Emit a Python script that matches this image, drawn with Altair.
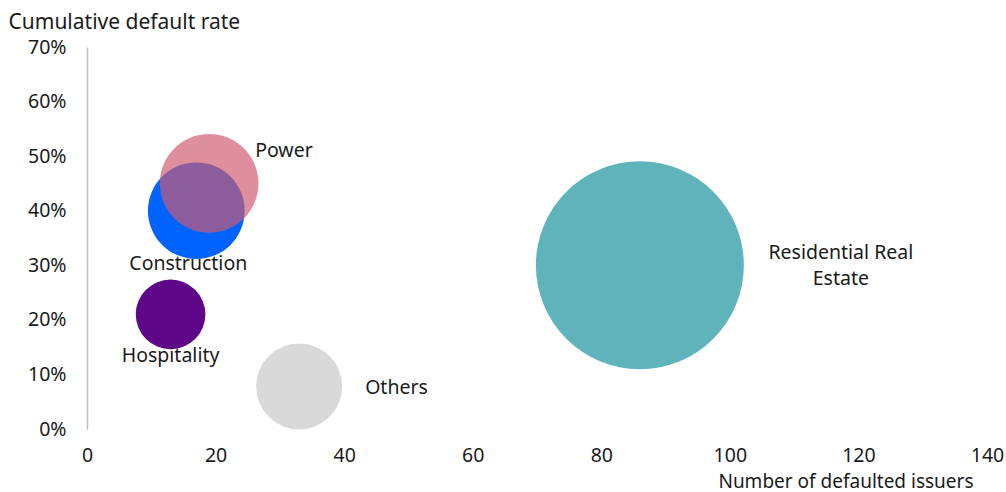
import altair as alt
import pandas as pd

# Sector bubbles: defaulted issuers (x), cumulative default rate (y), bubble size
sectors = ["Residential Real Estate", "Others", "Hospitality", "Construction", "Power"]
issuers = [86, 33, 13, 17, 19]
default_rate = [0.30, 0.078, 0.21, 0.40, 0.45]
bubble = [100, 17.1, 11.2, 21.6, 22.5]
label_text = ["Residential Real\nEstate", "Others", "Hospitality", "Construction", "Power"]

x_ticks = [0, 20, 40, 60, 80, 100, 120, 140]
y_ticks = [0, 0.1, 0.2, 0.3, 0.4, 0.5, 0.6, 0.7]

palette = ["#5FB4BC", "#D9D9D9", "#5E0788", "#0063FF", "#D0596E"]

FONT = "Noto Sans"
INK = "#1A1A1A"
FS = 19.5

df = pd.DataFrame({
    "sector": sectors,
    "issuers": issuers,
    "rate": default_rate,
    "bubble": bubble,
    "label": label_text,
})

x_enc = alt.X(
    "issuers:Q",
    scale=alt.Scale(domain=[0, 140], nice=False),
    axis=alt.Axis(
        values=x_ticks,
        title="Number of defaulted issuers",
        titleAngle=0,
        titleAlign="right",
        titleAnchor=None,
        titleX=886,
        titleY=58,
        titleBaseline="alphabetic",
        titleFontWeight="normal",
        titleFontSize=19,
        titleFont=FONT,
        titleColor=INK,
        labelFont=FONT,
        labelFontSize=FS,
        labelColor=INK,
        labelBaseline="alphabetic",
        labelPadding=32,
        labelFlush=False,
        ticks=False,
        tickSize=0,
        domain=False,
        grid=False,
    ),
)

y_enc = alt.Y(
    "rate:Q",
    scale=alt.Scale(domain=[0, 0.7], nice=False),
    axis=alt.Axis(
        values=y_ticks,
        format=".0%",
        title="Cumulative default rate",
        titleAngle=0,
        titleAlign="left",
        titleAnchor=None,
        titleX=-79,
        titleY=-19,
        titleBaseline="alphabetic",
        titleFontWeight="normal",
        titleFontSize=21,
        titleFont=FONT,
        titleColor=INK,
        labelFont=FONT,
        labelFontSize=FS,
        labelColor=INK,
        labelBaseline="middle",
        labelAlign="right",
        labelPadding=21,
        labelFlush=False,
        ticks=False,
        tickSize=0,
        domain=True,
        domainColor="#BFBFBF",
        domainWidth=1.5,
        grid=False,
    ),
)

# Vega draws a circle of size s with diameter sqrt(s)
bubbles = alt.Chart(df).mark_circle(stroke=None).encode(
    x=x_enc,
    y=y_enc,
    size=alt.Size(
        "bubble:Q",
        scale=alt.Scale(type="linear", domain=[0, 100], range=[0, 43264], zero=True),
        legend=None,
    ),
    color=alt.Color("sector:N", scale=alt.Scale(domain=sectors, range=palette), legend=None),
    opacity=alt.condition(alt.datum.sector == "Power", alt.value(0.68), alt.value(1)),
)


def label_layer(name, align, dx, dy):
    return (
        alt.Chart(df)
        .transform_filter(alt.datum.sector == name)
        .mark_text(
            align=align,
            baseline="alphabetic",
            dx=dx,
            dy=dy,
            font=FONT,
            fontSize=FS,
            color=INK,
            lineBreak="\n",
            lineHeight=26,
        )
        .encode(x="issuers:Q", y="rate:Q", text="label:N")
    )


labels = [
    label_layer("Residential Real Estate", "center", 201, -6),
    label_layer("Others", "left", 66, 8),
    label_layer("Hospitality", "center", 0, 48),
    label_layer("Construction", "center", -8, 59),
    label_layer("Power", "left", 46, -26),
]

chart = (
    alt.layer(bubbles, *labels)
    .properties(
        width=900,
        height=382,
        autosize=alt.AutoSizeParams(type="none"),
        padding={"left": 87, "top": 47, "right": 19, "bottom": 63},
        background="white",
    )
    .configure_view(stroke=None)
)

chart.save("out.html", embed_options={"renderer": "svg", "actions": False})
